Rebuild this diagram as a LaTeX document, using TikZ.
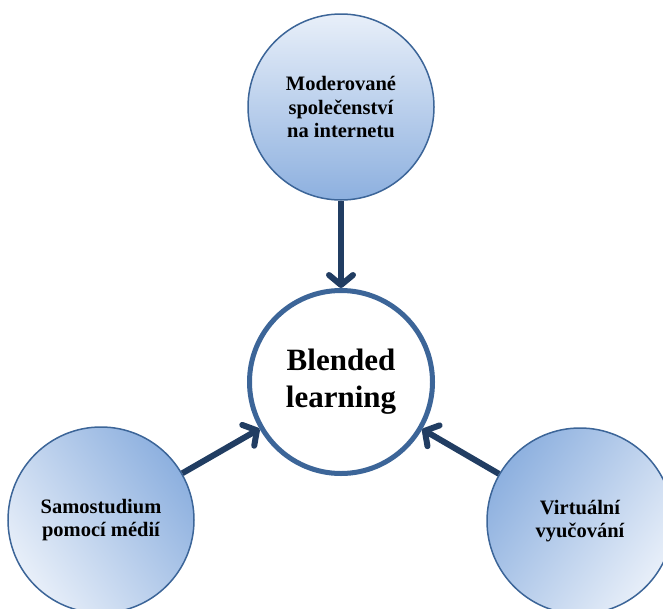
\documentclass[tikz,border=0pt]{standalone}
\usepackage{fontspec}
\setmainfont{Liberation Serif}
\usetikzlibrary{arrows.meta}
\definecolor{rim}{HTML}{3C6598}
\definecolor{light}{HTML}{E8EFF9}
\definecolor{dark}{HTML}{8DB0DF}
\definecolor{arrowc}{HTML}{213D62}
\tikzset{
  outer/.style={circle, draw=rim, line width=1.5pt, minimum size=186pt, inner sep=0pt, align=center,
    font=\fontsize{20.5}{23.5}\selectfont\bfseries, shading=axis},
  hub/.style={circle, draw=rim, line width=5pt, fill=white, minimum size=183pt, inner sep=0pt, align=center,
    font=\fontsize{31}{37}\selectfont\bfseries},
  link/.style={draw=arrowc, line width=6pt, -{Straight Barb[length=10pt,width=24pt,line cap=round,line join=round]}}
}
\begin{document}
\begin{tikzpicture}[x=1pt,y=-1pt]
\useasboundingbox (0,0) rectangle (663,608);
\node[hub] (c) at (341,382) {Blended\\learning};
\node[outer, top color=light, bottom color=dark] (t) at (341,107) {Moderované\\společenství\\na internetu};
\node[outer, top color=dark, bottom color=light, shading angle=-55] (l) at (101,520) {Samostudium\\pomocí médií};
\node[outer, top color=dark, bottom color=light, shading angle=55] (r) at (580,521) {Virtuální\\vyučování};
\draw[link] (t) -- (c);
\draw[link] (l) -- (c);
\draw[link] (r) -- (c);
\end{tikzpicture}
\end{document}
